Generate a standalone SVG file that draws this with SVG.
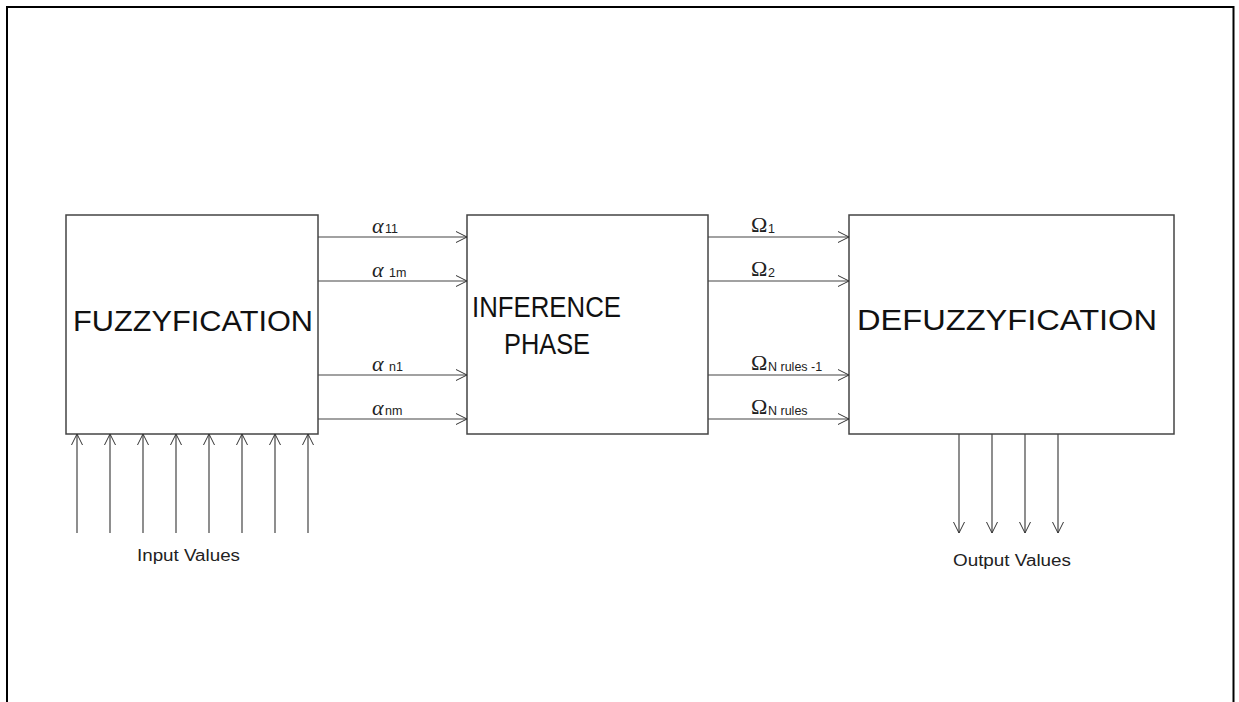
<svg xmlns="http://www.w3.org/2000/svg" width="1239" height="702" viewBox="0 0 1239 702">
<defs>
<style>
.box{fill:#fff;stroke:#444;stroke-width:1.5}
.ln{stroke:#444;stroke-width:1.2;fill:none}
.big{font-family:"Liberation Sans",Arial,sans-serif;font-size:29px;fill:#111}
.sm{font-family:"Liberation Sans",Arial,sans-serif;font-size:16px;fill:#222}
.gr{font-family:"Liberation Serif","DejaVu Serif",serif;font-size:22px;fill:#222}
.sub{font-family:"Liberation Sans",Arial,sans-serif;font-size:12.5px;fill:#222}
</style>
<marker id="ah" markerWidth="13" markerHeight="13" refX="12" refY="6.5" orient="auto" markerUnits="userSpaceOnUse">
<path d="M1,1 L12,6.5 L1,12" fill="none" stroke="#333" stroke-width="1"/>
</marker>
</defs>
<rect width="1239" height="702" fill="#fff"/>
<path d="M7,702 V7 H1233.5 V702" fill="none" stroke="#000" stroke-width="2"/>
<g id="fuzzyfication">
<rect class="box" x="66" y="215" width="252" height="219"/>
<text class="big" x="73" y="331" textLength="240" lengthAdjust="spacingAndGlyphs">FUZZYFICATION</text>
</g>
<g id="inference">
<rect class="box" x="467" y="215" width="241" height="219"/>
<text class="big" x="472" y="317" textLength="149" lengthAdjust="spacingAndGlyphs">INFERENCE</text>
<text class="big" x="504" y="354" textLength="86" lengthAdjust="spacingAndGlyphs">PHASE</text>
</g>
<g id="defuzzyfication">
<rect class="box" x="849" y="215" width="325" height="219"/>
<text class="big" x="857" y="330" textLength="300" lengthAdjust="spacingAndGlyphs">DEFUZZYFICATION</text>
</g>
<g id="connectors">
<path class="ln" d="M318,237 H467" marker-end="url(#ah)"/>
<path class="ln" d="M318,281 H467" marker-end="url(#ah)"/>
<path class="ln" d="M318,375 H467" marker-end="url(#ah)"/>
<path class="ln" d="M318,419 H467" marker-end="url(#ah)"/>
<path class="ln" d="M708,237 H849" marker-end="url(#ah)"/>
<path class="ln" d="M708,281 H849" marker-end="url(#ah)"/>
<path class="ln" d="M708,375 H849" marker-end="url(#ah)"/>
<path class="ln" d="M708,419 H849" marker-end="url(#ah)"/>
<path class="ln" d="M77,533 V434" marker-end="url(#ah)"/>
<path class="ln" d="M110,533 V434" marker-end="url(#ah)"/>
<path class="ln" d="M143,533 V434" marker-end="url(#ah)"/>
<path class="ln" d="M176,533 V434" marker-end="url(#ah)"/>
<path class="ln" d="M209,533 V434" marker-end="url(#ah)"/>
<path class="ln" d="M242,533 V434" marker-end="url(#ah)"/>
<path class="ln" d="M275,533 V434" marker-end="url(#ah)"/>
<path class="ln" d="M308,533 V434" marker-end="url(#ah)"/>
<path class="ln" d="M959,434 V533" marker-end="url(#ah)"/>
<path class="ln" d="M992,434 V533" marker-end="url(#ah)"/>
<path class="ln" d="M1025,434 V533" marker-end="url(#ah)"/>
<path class="ln" d="M1058,434 V533" marker-end="url(#ah)"/>
</g>
<g id="labels">
<text class="gr" x="372" y="233" font-style="italic">α</text><text class="sub" x="385" y="233">11</text>
<text class="gr" x="372" y="277" font-style="italic">α</text><text class="sub" x="389" y="277">1m</text>
<text class="gr" x="372" y="371" font-style="italic">α</text><text class="sub" x="389" y="371">n1</text>
<text class="gr" x="372" y="415" font-style="italic">α</text><text class="sub" x="385" y="415">nm</text>
<text class="gr" x="751" y="232">Ω</text><text class="sub" x="768" y="233">1</text>
<text class="gr" x="751" y="276">Ω</text><text class="sub" x="768" y="277">2</text>
<text class="gr" x="751" y="370">Ω</text><text class="sub" x="768" y="371">N rules -1</text>
<text class="gr" x="751" y="414">Ω</text><text class="sub" x="768" y="415">N rules</text>
<text class="sm" x="137" y="561" textLength="103" lengthAdjust="spacingAndGlyphs">Input Values</text>
<text class="sm" x="953" y="566" textLength="118" lengthAdjust="spacingAndGlyphs">Output Values</text>
</g>
</svg>
